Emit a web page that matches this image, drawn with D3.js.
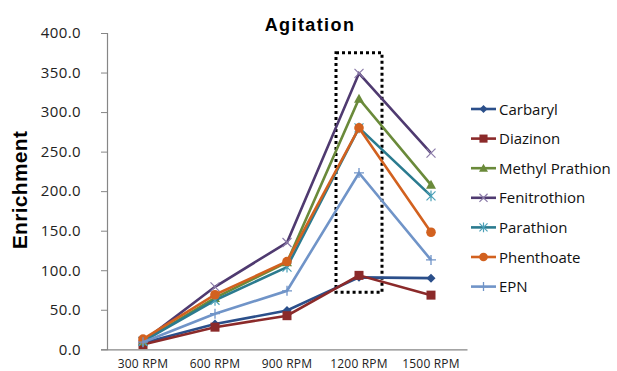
<!DOCTYPE html>
<html><head><meta charset="utf-8">
<script src="https://cdn.jsdelivr.net/npm/d3@7"></script>
<style>body{margin:0;background:#fff}svg{display:block}</style>
</head><body>
<svg id="chart" width="617" height="371"></svg>
<script>
const categories = ["300 RPM","600 RPM","900 RPM","1200 RPM","1500 RPM"];
const seriesNames = ["Carbaryl","Diazinon","Methyl Prathion","Fenitrothion","Parathion","Phenthoate","EPN"];
const carbaryl   = [8, 32, 49, 91, 90];
const diazinon   = [6, 28, 42.5, 93.5, 68.5];
const methyl     = [10, 65, 110, 317, 208];
const fenitro    = [10, 79, 135, 349, 248];
const parathion  = [10, 62, 104, 280, 194];
const phenthoate = [13, 69, 111, 280, 148];
const epn        = [9, 45, 74, 223, 113];
const yTicks = [0,50,100,150,200,250,300,350,400];
const highlight = {category:"1200 RPM", top:375, bottom:72};

const values = [carbaryl, diazinon, methyl, fenitro, parathion, phenthoate, epn];
const colors = ["#2B4F8A","#8B2A2A","#6A8A3A","#4F3A70","#2B7B8F","#D2611F","#7094C8"];
const markers = ["diamond","square","triangle","x","star","circle","plus"];

const svg = d3.select("#chart");
const x = d3.scaleBand().domain(categories).range([107,467]);
const y = d3.scaleLinear().domain([0,400]).range([349.3,33]);

// title
svg.append("text").attr("x",310).attr("y",31).attr("text-anchor","middle")
  .attr("font-family","Liberation Sans, Arial, sans-serif").attr("font-weight","bold")
  .attr("font-size",18).attr("letter-spacing","1.4px").text("Agitation");
// y title
svg.append("text").attr("transform","translate(27,190) rotate(-90)").attr("text-anchor","middle")
  .attr("font-family","Liberation Sans, Arial, sans-serif").attr("font-weight","bold")
  .attr("font-size",21).attr("letter-spacing","0.3px").text("Enrichment");

// y axis
const yAxis = svg.append("g").attr("transform","translate(107,0)")
  .call(d3.axisLeft(y).tickValues(yTicks).tickFormat(d3.format(".1f")).tickSizeOuter(0).tickSize(6).tickPadding(20));
yAxis.select(".domain").attr("stroke","#868686").attr("stroke-width",1.2);
yAxis.selectAll(".tick line").attr("stroke","#868686");
yAxis.selectAll(".tick text").attr("font-family","Open Sans, sans-serif").attr("font-size",15)
  .attr("letter-spacing","0.4px").attr("fill","#222");

// x axis
const xAxis = svg.append("g").attr("transform","translate(0,349.3)")
  .call(d3.axisBottom(x).tickSize(0).tickSizeOuter(0).tickPadding(10));
xAxis.select(".domain").attr("stroke","#868686").attr("stroke-width",1.2);
xAxis.selectAll(".tick text").attr("font-family","Open Sans, sans-serif").attr("font-size",12)
  .attr("letter-spacing","0.2px").attr("fill","#222");

const cx = d => x(d) + x.bandwidth()/2;

// highlight box
svg.append("rect").attr("x",cx(highlight.category)-23).attr("y",y(highlight.top))
  .attr("width",46).attr("height",y(highlight.bottom)-y(highlight.top))
  .attr("fill","none").attr("stroke","#000").attr("stroke-width",3).attr("stroke-dasharray","3,3");

function drawMarker(g, type, color, px, py, s){
  s = s||1;
  if(type==="diamond"){
    g.append("path").attr("d",`M${px},${py-4.5*s}L${px+4.5*s},${py}L${px},${py+4.5*s}L${px-4.5*s},${py}Z`).attr("fill",color);
  } else if(type==="square"){
    g.append("rect").attr("x",px-4.5*s).attr("y",py-4.5*s).attr("width",9*s).attr("height",9*s).attr("fill",color);
  } else if(type==="triangle"){
    g.append("path").attr("d",`M${px},${py-5*s}L${px+5*s},${py+4*s}L${px-5*s},${py+4*s}Z`).attr("fill",color);
  } else if(type==="circle"){
    g.append("circle").attr("cx",px).attr("cy",py).attr("r",4.8*s).attr("fill",color);
  } else if(type==="x"){
    const r=4.5*s;
    g.append("path").attr("d",`M${px-r},${py-r}L${px+r},${py+r}M${px-r},${py+r}L${px+r},${py-r}`)
      .attr("stroke","#8a7aa8").attr("stroke-width",1.2);
  } else if(type==="star"){
    const r=4.5*s;
    g.append("path").attr("d",`M${px-r},${py-r}L${px+r},${py+r}M${px-r},${py+r}L${px+r},${py-r}M${px},${py-r*1.2}L${px},${py+r*1.2}`)
      .attr("stroke","#4aa0b8").attr("stroke-width",1.2);
  } else if(type==="plus"){
    const r=5*s;
    g.append("path").attr("d",`M${px-r},${py}L${px+r},${py}M${px},${py-r}L${px},${py+r}`)
      .attr("stroke",color).attr("stroke-width",1.3);
  }
}

const line = d3.line().x((d,i)=>cx(categories[i])).y(d=>y(d));
values.forEach((vals,si)=>{
  const g = svg.append("g");
  g.append("path").attr("d",line(vals)).attr("fill","none").attr("stroke",colors[si]).attr("stroke-width",2.6);
  vals.forEach((v,i)=>drawMarker(g, markers[si], colors[si], cx(categories[i]), y(v)));
});

// legend
const leg = svg.append("g");
seriesNames.forEach((n,i)=>{
  const ly = 109 + i*29.6;
  leg.append("line").attr("x1",471).attr("x2",496).attr("y1",ly).attr("y2",ly)
    .attr("stroke",colors[i]).attr("stroke-width",2.6);
  drawMarker(leg, markers[i], colors[i], 483.5, ly, 0.9);
  leg.append("text").attr("x",499).attr("y",ly+5.5).attr("font-family","Open Sans, sans-serif")
    .attr("font-size",15).attr("fill","#111").text(n);
});
</script>
</body></html>
